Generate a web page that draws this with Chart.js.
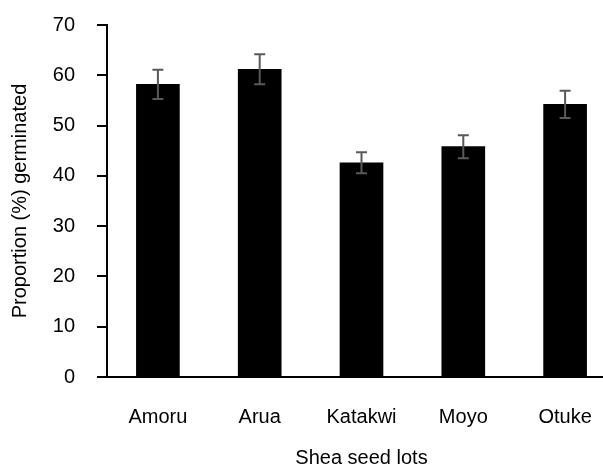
<!DOCTYPE html>
<html>
<head>
<meta charset="utf-8">
<script src="https://cdn.jsdelivr.net/npm/chart.js@4"></script>
<style>
    html, body { margin: 0; padding: 0; background: #fff; overflow: hidden; }
    #wrap { width: 616px; height: 475px; margin-top: -9px; }
</style>
</head>
<body>
<div id="wrap"><canvas id="germChart" width="616" height="475"></canvas></div>
<script>
// Shea seed lot germination data
const seedLots = ['Amoru', 'Arua', 'Katakwi', 'Moyo', 'Otuke'];
const germinated = [58.2, 61.2, 42.6, 45.8, 54.2];
const stdErr = [2.9, 3.0, 2.1, 2.3, 2.7];
const yTicks = [0, 10, 20, 30, 40, 50, 60, 70];

// Draw error bars from the y scale
const errorBars = {
    id: 'errorBars',
    afterDatasetsDraw(chart) {
        const ctx = chart.ctx;
        const meta = chart.getDatasetMeta(0);
        const y = chart.scales.y;
        ctx.save();
        ctx.strokeStyle = '#595959';
        ctx.lineWidth = 2;
        meta.data.forEach(function(bar, i) {
            const top = y.getPixelForValue(germinated[i] + stdErr[i]);
            const bot = y.getPixelForValue(germinated[i] - stdErr[i]);
            const x = bar.x;
            ctx.beginPath();
            ctx.moveTo(x, top); ctx.lineTo(x, bot);
            ctx.moveTo(x - 5.5, top); ctx.lineTo(x + 5.5, top);
            ctx.moveTo(x - 5.5, bot); ctx.lineTo(x + 5.5, bot);
            ctx.stroke();
        });
        ctx.restore();
    }
};

const font = { family: '"Liberation Sans", Arial, sans-serif', size: 20 };

new Chart(document.getElementById('germChart').getContext('2d'), {
    type: 'bar',
    data: {
        labels: seedLots,
        datasets: [{
            data: germinated,
            backgroundColor: '#000',
            barThickness: 43
        }]
    },
    options: {
        responsive: false,
        animation: false,
        layout: { padding: { top: 7, right: 0, left: 0, bottom: 0 } },
        plugins: { legend: { display: false }, tooltip: { enabled: false } },
        scales: {
            x: {
                grid: { display: false },
                border: { color: '#000', width: 2 },
                ticks: { color: '#000', font: font, padding: 20 },
                title: { display: true, text: 'Shea seed lots', color: '#000', font: font, padding: { top: 0, bottom: -4 } },
                afterFit: function(s) { s.height = 89; }
            },
            y: {
                min: 0,
                max: 70,
                afterBuildTicks: function(s) { s.ticks = yTicks.map(v => ({ value: v })); },
                grid: { drawOnChartArea: false, drawTicks: true, tickLength: 10, color: '#000', lineWidth: 2 },
                border: { color: '#000', width: 2 },
                ticks: { color: '#000', font: font, padding: 22 },
                title: { display: true, text: 'Proportion (%) germinated', color: '#000', font: font, padding: { top: 8, bottom: 0 } },
                afterFit: function(s) { s.width = 107; }
            }
        }
    },
    plugins: [errorBars]
});
</script>
</body>
</html>
